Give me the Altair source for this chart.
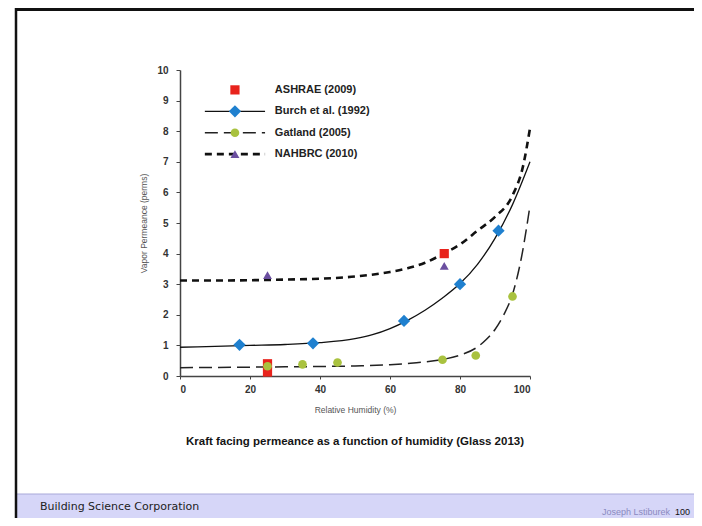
import altair as alt
import pandas as pd

# ---------------- data ----------------
# measured points
ashrae_x = [25, 25, 75.5]
ashrae_y = [0.40, 0.13, 4.0]

burch_x = [17, 38, 64, 80, 91]
burch_y = [1.02, 1.07, 1.80, 3.0, 4.75]

gatland_x = [25, 35, 45, 75, 84.5, 95]
gatland_y = [0.32, 0.38, 0.44, 0.53, 0.67, 2.6]

nahbrc_x = [25, 75.5]
nahbrc_y = [3.3, 3.6]

# fitted curves
burch_cx = [0, 10, 20, 30, 40, 50, 55, 60, 65, 70, 75, 80, 85, 90, 95, 100]
burch_cy = [0.94, 0.97, 1.0, 1.03, 1.09, 1.22, 1.35, 1.55, 1.82, 2.15, 2.55, 3.02, 3.65, 4.5, 5.6, 7.0]

gatland_cx = [0, 10, 20, 30, 40, 50, 60, 65, 70, 75, 80, 85, 87.5, 90, 92.5, 95, 97.5, 100]
gatland_cy = [0.27, 0.28, 0.29, 0.30, 0.31, 0.33, 0.37, 0.41, 0.46, 0.54, 0.68, 0.95, 1.19, 1.52, 2.0, 2.67, 3.84, 5.57]

nahbrc_cx = [0, 10, 20, 30, 40, 50, 60, 65, 70, 75, 80, 85, 90, 95, 98, 100]
nahbrc_cy = [3.12, 3.12, 3.13, 3.15, 3.18, 3.25, 3.40, 3.52, 3.70, 3.98, 4.30, 4.75, 5.2, 5.9, 6.85, 8.1]

# legend
leg_names = ["ASHRAE (2009)", "Burch et al. (1992)", "Gatland (2005)", "NAHBRC (2010)"]
leg_y = [9.35, 8.65, 7.95, 7.25]
leg_line_x = [7.1, 24.3]
leg_sym_x = 15.7
leg_text_x = 27.1

x_ticks = [0, 20, 40, 60, 80, 100]
y_ticks = list(range(0, 11))

RED = "#e8231c"
BLUE = "#1f80cf"
GREEN = "#a9c23f"
PURPLE = "#6b4fa0"

xs = alt.Scale(domain=[0, 100], nice=False)
ys = alt.Scale(domain=[0, 10], nice=False)

x_axis = alt.Axis(values=x_ticks, grid=False, tickSize=3, labelPadding=5,
                  titlePadding=11, domainColor="#444", domainWidth=1.5,
                  tickColor="#444", labelColor="#333", labelFontSize=10,
                  labelFontWeight="bold",
                  titleFontSize=8.5, titleColor="#555", titleFontWeight="normal",
                  labelFont="Liberation Sans", titleFont="Liberation Sans")
y_axis = alt.Axis(values=y_ticks, grid=False, tickSize=4, labelPadding=8,
                  titlePadding=8, domainColor="#444", domainWidth=1.5,
                  tickColor="#444", labelColor="#333", labelFontSize=10,
                  labelFontWeight="bold",
                  titleFontSize=8.5, titleColor="#555", titleFontWeight="normal",
                  labelFont="Liberation Sans", titleFont="Liberation Sans")
X_TITLE = "Relative Humidity (%)"
Y_TITLE = "Vapor Permeance (perms)"


def X(f):
    return alt.X(f, type="quantitative", scale=xs, axis=x_axis, title=X_TITLE)


def Y(f):
    return alt.Y(f, type="quantitative", scale=ys, axis=y_axis, title=Y_TITLE)


def df(x, y):
    return pd.DataFrame({"x": x, "y": y})


burch_line = alt.Chart(df(burch_cx, burch_cy)).mark_line(
    color="#111", strokeWidth=1.3, interpolate="monotone").encode(x=X("x"), y=Y("y"))
gatland_line = alt.Chart(df(gatland_cx, gatland_cy)).mark_line(
    color="#222", strokeWidth=1.5, strokeDash=[13, 6], interpolate="monotone").encode(x=X("x"), y=Y("y"))
nahbrc_line = alt.Chart(df(nahbrc_cx, nahbrc_cy)).mark_line(
    color="#111", strokeWidth=2.6, strokeDash=[7, 5], interpolate="monotone").encode(x=X("x"), y=Y("y"))

gatland_pts = alt.Chart(df(gatland_x, gatland_y)).mark_point(
    shape="circle", filled=True, color=GREEN, size=75, opacity=1).encode(x=X("x"), y=Y("y"))
burch_pts = alt.Chart(df(burch_x, burch_y)).mark_point(
    shape="diamond", filled=True, color=BLUE, size=150, opacity=1).encode(x=X("x"), y=Y("y"))
ashrae_pts = alt.Chart(df(ashrae_x, ashrae_y)).mark_point(
    shape="square", filled=True, color=RED, size=85, opacity=1).encode(x=X("x"), y=Y("y"))
nahbrc_pts = alt.Chart(df(nahbrc_x, nahbrc_y)).mark_point(
    shape="triangle-up", filled=True, color=PURPLE, size=80, opacity=1).encode(x=X("x"), y=Y("y"))

# legend
leg = pd.DataFrame({"name": leg_names, "y": leg_y,
                    "x1": [leg_line_x[0]] * 4, "x2": [leg_line_x[1]] * 4,
                    "xs": [leg_sym_x] * 4, "xt": [leg_text_x] * 4})
L = alt.Chart(leg)
leg_burch_line = L.transform_filter(alt.datum.name == leg_names[1]).mark_rule(
    color="#111", strokeWidth=1.3).encode(x=X("x1"), x2="x2", y=Y("y"))
leg_gat_line = L.transform_filter(alt.datum.name == leg_names[2]).mark_rule(
    color="#222", strokeWidth=1.5, strokeDash=[13, 6]).encode(x=X("x1"), x2="x2", y=Y("y"))
leg_nah_line = L.transform_filter(alt.datum.name == leg_names[3]).mark_rule(
    color="#111", strokeWidth=2.6, strokeDash=[7, 5]).encode(x=X("x1"), x2="x2", y=Y("y"))
leg_sq = L.transform_filter(alt.datum.name == leg_names[0]).mark_point(
    shape="square", filled=True, color=RED, size=85, opacity=1).encode(x=X("xs"), y=Y("y"))
leg_di = L.transform_filter(alt.datum.name == leg_names[1]).mark_point(
    shape="diamond", filled=True, color=BLUE, size=150, opacity=1).encode(x=X("xs"), y=Y("y"))
leg_ci = L.transform_filter(alt.datum.name == leg_names[2]).mark_point(
    shape="circle", filled=True, color=GREEN, size=75, opacity=1).encode(x=X("xs"), y=Y("y"))
leg_tr = L.transform_filter(alt.datum.name == leg_names[3]).mark_point(
    shape="triangle-up", filled=True, color=PURPLE, size=80, opacity=1).encode(x=X("xs"), y=Y("y"))
leg_text = L.mark_text(align="left", baseline="middle", font="Liberation Sans",
                       fontWeight="bold", fontSize=11, color="#222").encode(
    x=X("xt"), y=Y("y"), text="name:N")

# decorations (slide frame)
one = pd.DataFrame({"a": [0]})
D = alt.Chart(one)
bar = D.mark_rect(color="#d6d6f8").encode(
    x=alt.value(-163), x2=alt.value(514), y=alt.value(424), y2=alt.value(448))
bar_top = D.mark_rule(color="#a8a8d8", strokeWidth=1).encode(
    x=alt.value(-163), x2=alt.value(514), y=alt.value(424))
top_line = D.mark_rule(color="#111", strokeWidth=3).encode(
    x=alt.value(-165), x2=alt.value(514), y=alt.value(-60.5))
left_line = D.mark_rule(color="#111", strokeWidth=2.5).encode(
    x=alt.value(-164), y=alt.value(-62), y2=alt.value(448))
caption = D.mark_text(align="center", baseline="middle", font="Liberation Sans",
                      fontWeight="bold", fontSize=11.5, color="#151515").encode(
    x=alt.value(175), y=alt.value(372),
    text=alt.value("Kraft facing permeance as a function of humidity (Glass 2013)"))
bsc = D.mark_text(align="left", baseline="middle", font="DejaVu Sans",
                  fontSize=11, color="#222").encode(
    x=alt.value(-140), y=alt.value(437), text=alt.value("Building Science Corporation"))
author = D.mark_text(align="right", baseline="bottom", font="Liberation Sans",
                     fontSize=9, color="#8a8ac0").encode(
    x=alt.value(490), y=alt.value(447), text=alt.value("Joseph Lstiburek"))
page = D.mark_text(align="right", baseline="bottom", font="Liberation Sans",
                   fontSize=9, color="#111").encode(
    x=alt.value(510), y=alt.value(447), text=alt.value("100"))

chart = alt.layer(
    bar, bar_top, top_line, left_line,
    nahbrc_line, burch_line, gatland_line,
    ashrae_pts, gatland_pts, burch_pts, nahbrc_pts,
    leg_burch_line, leg_gat_line, leg_nah_line,
    leg_sq, leg_di, leg_ci, leg_tr, leg_text,
    caption, bsc, author, page,
).properties(
    width=350, height=306,
    autosize=alt.AutoSizeParams(type="none"),
    padding={"left": 172, "top": 62, "right": 164, "bottom": 142},
    background="white",
).configure_view(stroke=None)

chart.save("out.html", embed_options={"renderer": "svg", "actions": False})
